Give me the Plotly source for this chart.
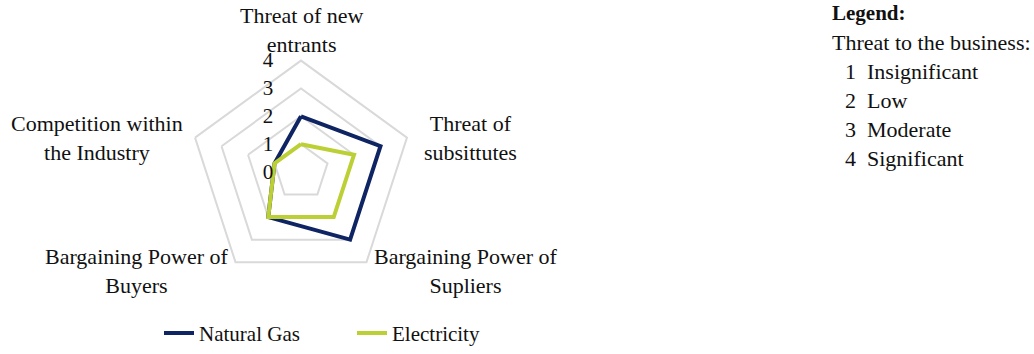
import plotly.graph_objects as go

# Five forces assessed for each energy carrier (0 = none, 4 = significant)
forces = [
    "Threat of new<br>entrants",
    "Threat of<br>subsittutes",
    "Bargaining Power of<br>Supliers",
    "Bargaining Power of<br>Buyers",
    "Competition within<br>the Industry",
]
natural_gas = [2, 3, 3, 2, 1]
electricity = [1, 2, 2, 2, 1]

series_names = ["Natural Gas", "Electricity"]
series_colors = ["#0f2463", "#bccf34"]

scale_title = "Legend:"
scale_caption = "Threat to the business:"
scale_levels = ["1  Insignificant", "2  Low", "3  Moderate", "4  Significant"]

FONT = "Liberation Serif, Times New Roman, serif"
TEXT = "#111111"
GRID = "#d9d9d9"
FS = 21     # tick and legend text
FS_CAT = 22  # category names and scale key
W, H = 1034, 354

fig = go.Figure()
for name, values, color in zip(series_names, [natural_gas, electricity], series_colors):
    fig.add_trace(go.Scatterpolar(
        r=values + values[:1],
        theta=forces + forces[:1],
        mode="lines",
        name=name,
        line=dict(color=color, width=4),
        hoverinfo="skip",
    ))

# Polar area: centre at (301, 176) px, outer radius 114 px
cx, cy, R = 301, 176, 114
fig.update_layout(
    width=W, height=H,
    margin=dict(l=0, r=0, t=0, b=0),
    paper_bgcolor="white",
    plot_bgcolor="white",
    font=dict(family=FONT, size=FS, color=TEXT),
    polar=dict(
        domain=dict(x=[(cx - R) / W, (cx + R) / W],
                    y=[(H - cy - R) / H, (H - cy + R) / H]),
        bgcolor="white",
        gridshape="linear",
        radialaxis=dict(
            range=[0, 4], dtick=1, angle=90, side="counterclockwise", tickangle=90,
            showline=False, ticks="outside", ticklen=20, tickcolor="rgba(0,0,0,0)",
            showgrid=True, gridcolor=GRID, gridwidth=2,
            tickfont=dict(family=FONT, size=FS, color=TEXT),
        ),
        angularaxis=dict(
            rotation=90, direction="clockwise",
            showgrid=False, showline=True, linecolor=GRID, linewidth=2,
            ticks="", showticklabels=False,
        ),
    ),
    showlegend=True,
    legend=dict(
        orientation="h", x=159 / W, xanchor="left",
        y=(H - 341) / H, yanchor="middle",
        entrywidth=148, entrywidthmode="pixels",
        font=dict(family=FONT, size=FS, color=TEXT),
        bgcolor="rgba(0,0,0,0)",
    ),
)

# Category names set just outside each spoke, centred as text blocks
label_pos = [(cx, 31), (470, 141), (466, 277), (137, 277), (97, 141)]
for (lx, ly), name in zip(label_pos, forces):
    fig.add_annotation(x=lx / W, y=(H - ly) / H, xref="paper", yref="paper",
                       xanchor="center", yanchor="middle", align="center",
                       showarrow=False, text=name,
                       font=dict(family=FONT, size=FS_CAT, color=TEXT))

# Rating scale key at the right
fig.add_annotation(x=830 / W, y=(H - 13) / H, xref="paper", yref="paper",
                   xanchor="left", yanchor="middle", showarrow=False,
                   text=f"<b>{scale_title}</b>", font=dict(family=FONT, size=21, color=TEXT))
fig.add_annotation(x=830 / W, y=(H - 43) / H, xref="paper", yref="paper",
                   xanchor="left", yanchor="middle", showarrow=False,
                   text=scale_caption, font=dict(family=FONT, size=FS_CAT, color=TEXT))
for i, level in enumerate(scale_levels):
    fig.add_annotation(x=843 / W, y=(H - 73 - 29.7 * i) / H, xref="paper", yref="paper",
                       xanchor="left", yanchor="middle", showarrow=False,
                       text=level.replace("  ", "&nbsp;&nbsp;"),
                       font=dict(family=FONT, size=FS_CAT, color=TEXT))

fig.write_html("out.html")
